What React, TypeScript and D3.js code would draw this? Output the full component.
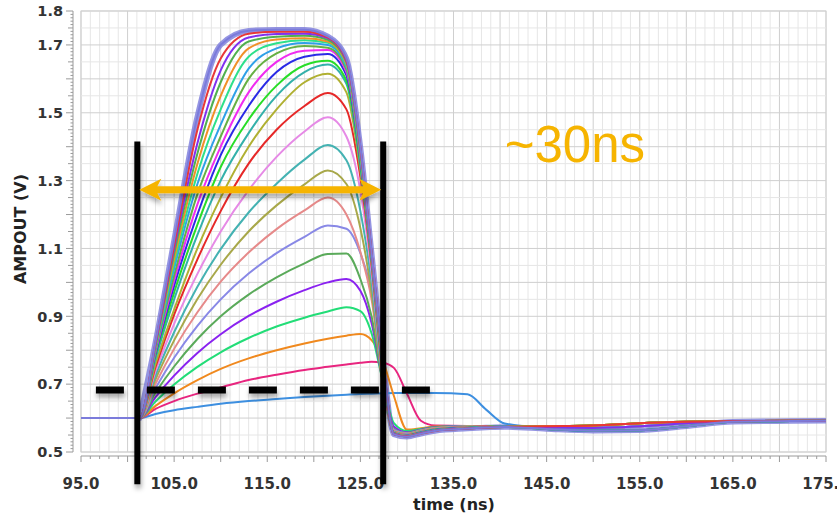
import React from 'react';
import * as d3 from 'd3';

// sample times (ns) shared by every swept waveform
const sampleTimes = [95, 101.3, 103, 105, 107.5, 110, 113, 116, 119, 121.5, 123.5, 125, 126.2, 127.4, 128.6, 130, 131.5, 133, 136.5, 138.5, 140.5];

// settling tail after 140.5 ns, three slightly different shapes
const tailTimes = [145, 150, 155, 160, 165, 175];
const tailA = [0.576, 0.578, 0.585, 0.589, 0.591, 0.592];
const tailB = [0.568, 0.563, 0.564, 0.576, 0.589, 0.592];
const tailC = [0.572, 0.571, 0.576, 0.585, 0.591, 0.592];

// waveform values (V), lowest sweep first
const curveValues: number[][] = [
  [0.6, 0.6, 0.612, 0.623, 0.633, 0.642, 0.65, 0.656, 0.662, 0.666, 0.669, 0.671, 0.672, 0.673, 0.674, 0.674, 0.674, 0.674, 0.67, 0.625, 0.584],
  [0.6, 0.6, 0.627, 0.65, 0.672, 0.69, 0.712, 0.728, 0.742, 0.751, 0.758, 0.763, 0.766, 0.763, 0.748, 0.672, 0.592, 0.578, 0.577, 0.577, 0.576],
  [0.6, 0.6, 0.636, 0.673, 0.712, 0.745, 0.776, 0.8, 0.82, 0.834, 0.843, 0.848, 0.83, 0.77, 0.665, 0.566, 0.57, 0.575, 0.577, 0.577, 0.576],
  [0.6, 0.6, 0.649, 0.699, 0.751, 0.794, 0.836, 0.87, 0.896, 0.914, 0.927, 0.915, 0.85, 0.71, 0.585, 0.562, 0.568, 0.574, 0.577, 0.577, 0.576],
  [0.6, 0.6, 0.662, 0.725, 0.792, 0.847, 0.901, 0.943, 0.977, 1.0, 1.01, 0.975, 0.88, 0.71, 0.575, 0.558, 0.566, 0.573, 0.577, 0.577, 0.576],
  [0.6, 0.6, 0.675, 0.752, 0.833, 0.9, 0.964, 1.015, 1.056, 1.084, 1.085, 1.01, 0.9, 0.71, 0.568, 0.556, 0.565, 0.572, 0.576, 0.577, 0.576],
  [0.6, 0.6, 0.688, 0.778, 0.872, 0.95, 1.026, 1.086, 1.134, 1.168, 1.158, 1.086, 0.97, 0.72, 0.565, 0.555, 0.564, 0.571, 0.576, 0.576, 0.576],
  [0.6, 0.6, 0.701, 0.804, 0.912, 1.002, 1.088, 1.157, 1.212, 1.25, 1.2, 1.09, 0.95, 0.71, 0.562, 0.554, 0.563, 0.57, 0.575, 0.576, 0.576],
  [0.6, 0.6, 0.714, 0.829, 0.951, 1.052, 1.15, 1.227, 1.289, 1.33, 1.29, 1.16, 0.97, 0.7, 0.56, 0.553, 0.562, 0.569, 0.575, 0.576, 0.576],
  [0.6, 0.6, 0.726, 0.853, 0.987, 1.098, 1.206, 1.291, 1.362, 1.405, 1.36, 1.21, 1.0, 0.71, 0.558, 0.552, 0.561, 0.568, 0.574, 0.575, 0.576],
  [0.6, 0.6, 0.738, 0.878, 1.025, 1.15, 1.272, 1.37, 1.445, 1.487, 1.43, 1.27, 1.03, 0.72, 0.557, 0.551, 0.56, 0.568, 0.574, 0.575, 0.576],
  [0.6, 0.6, 0.75, 0.905, 1.068, 1.21, 1.35, 1.45, 1.52, 1.558, 1.51, 1.31, 1.05, 0.73, 0.556, 0.55, 0.559, 0.567, 0.573, 0.575, 0.575],
  [0.6, 0.6, 0.76, 0.92, 1.1, 1.25, 1.4, 1.51, 1.59, 1.615, 1.56, 1.33, 1.06, 0.74, 0.556, 0.549, 0.558, 0.566, 0.572, 0.574, 0.575],
  [0.6, 0.6, 0.775, 0.95, 1.14, 1.3, 1.44, 1.55, 1.62, 1.642, 1.585, 1.34, 1.065, 0.745, 0.555, 0.549, 0.558, 0.566, 0.572, 0.574, 0.575],
  [0.6, 0.6, 0.785, 0.97, 1.17, 1.34, 1.48, 1.58, 1.64, 1.653, 1.595, 1.35, 1.07, 0.75, 0.555, 0.548, 0.557, 0.565, 0.571, 0.574, 0.575],
  [0.6, 0.6, 0.79, 0.99, 1.2, 1.375, 1.52, 1.62, 1.665, 1.673, 1.61, 1.36, 1.072, 0.752, 0.555, 0.548, 0.557, 0.565, 0.571, 0.573, 0.575],
  [0.6, 0.6, 0.795, 1.005, 1.23, 1.4, 1.56, 1.65, 1.683, 1.685, 1.62, 1.365, 1.075, 0.755, 0.554, 0.548, 0.556, 0.564, 0.571, 0.573, 0.575],
  [0.6, 0.6, 0.8, 1.02, 1.26, 1.43, 1.6, 1.675, 1.697, 1.692, 1.628, 1.37, 1.078, 0.758, 0.554, 0.547, 0.556, 0.564, 0.57, 0.573, 0.575],
  [0.6, 0.6, 0.805, 1.04, 1.29, 1.465, 1.63, 1.69, 1.706, 1.7, 1.635, 1.375, 1.08, 0.76, 0.554, 0.547, 0.556, 0.564, 0.57, 0.573, 0.575],
  [0.6, 0.6, 0.81, 1.055, 1.32, 1.51, 1.665, 1.705, 1.714, 1.706, 1.64, 1.38, 1.082, 0.765, 0.553, 0.547, 0.555, 0.563, 0.57, 0.573, 0.574],
  [0.6, 0.6, 0.812, 1.07, 1.35, 1.55, 1.69, 1.716, 1.72, 1.71, 1.645, 1.385, 1.084, 0.768, 0.553, 0.547, 0.555, 0.563, 0.57, 0.572, 0.574],
  [0.6, 0.6, 0.815, 1.085, 1.38, 1.59, 1.71, 1.724, 1.727, 1.715, 1.65, 1.39, 1.086, 0.772, 0.553, 0.546, 0.555, 0.563, 0.569, 0.572, 0.574],
  [0.6, 0.6, 0.818, 1.1, 1.41, 1.625, 1.722, 1.732, 1.733, 1.72, 1.652, 1.395, 1.088, 0.775, 0.553, 0.546, 0.555, 0.563, 0.569, 0.572, 0.574],
  [0.6, 0.6, 0.822, 1.11, 1.45, 1.66, 1.733, 1.739, 1.739, 1.722, 1.656, 1.398, 1.089, 0.778, 0.552, 0.546, 0.554, 0.562, 0.569, 0.572, 0.574],
  [0.6, 0.6, 0.825, 1.125, 1.49, 1.7, 1.742, 1.745, 1.745, 1.725, 1.66, 1.4, 1.09, 0.78, 0.552, 0.545, 0.554, 0.562, 0.569, 0.572, 0.574],
];

const curveColors = [
  '#3d8fe0', '#e8257f', '#f0891e', '#22dd77', '#8a22f0', '#5aaa5a', '#8888e6', '#e68a8a', '#a8a84a',
  '#44b2b2', '#e68ae6', '#e62828', '#b0b032', '#33b0aa', '#28dd28', '#2a2ae6', '#f02cf0', '#66b044',
  '#2fa0e8', '#2ee08a', '#f09028', '#50b050', '#8030f0', '#e83838', '#7b7bdb',
];
const curveTails = ['C', 'C', 'A', 'B', 'C', 'A', 'B', 'C', 'A', 'B', 'C', 'A', 'B', 'C', 'A', 'B', 'C', 'A', 'B', 'C', 'A', 'B', 'C', 'A', 'B'];

const xTicks = [95, 105, 115, 125, 135, 145, 155, 165, 175];
const yTicks = [0.5, 0.7, 0.9, 1.1, 1.3, 1.5, 1.7, 1.8];

// annotations drawn over the plot
const markerTimes = [101.05, 127.45];
const markerRange = [0.405, 1.415];
const arrowLevel = 1.273;
const thresholdLevel = 0.683;
const thresholdSpan = [96.6, 132.6];
const noteText = '~30ns';
const notePos = { t: 140.5, v: 1.355 };

const W = 837;
const H = 519;
const font = '"DejaVu Sans", sans-serif';

export default function App() {
  const x = d3.scaleLinear().domain([95, 175]).range([81, 826]);
  const y = d3.scaleLinear().domain([0.5, 1.8]).range([452, 11]);
  const tails: Record<string, number[]> = { A: tailA, B: tailB, C: tailC };

  const series = curveValues.map((vals, i) => {
    const pts: [number, number][] = sampleTimes.map((t, j) => [t, vals[j]]);
    const tail = tails[curveTails[i]];
    tailTimes.forEach((t, j) => pts.push([t, tail[j]]));
    return pts;
  });

  const line = d3.line<[number, number]>()
    .x(d => x(d[0]))
    .y(d => y(d[1]))
    .curve(d3.curveMonotoneX);

  const gridX = d3.range(95, 175.5, 1);
  const gridY = d3.range(0, 27).map(i => 0.5 + i * 0.05);
  const tickY = d3.range(0, 131).map(i => 0.5 + i * 0.01);

  const axisX = 73;
  const axisY = 456;
  const top = series.length - 1;

  const ax0 = x(markerTimes[0]) + 2;
  const ax1 = x(markerTimes[1]) - 2;
  const ay = y(arrowLevel);
  const head = 22;
  const hw = 11;
  const sh = 3.4;
  const arrowPath = `M${ax0},${ay} L${ax0 + head},${ay - hw} L${ax0 + head - 4},${ay - sh} L${ax1 - head + 4},${ay - sh} L${ax1 - head},${ay - hw} L${ax1},${ay} L${ax1 - head},${ay + hw} L${ax1 - head + 4},${ay + sh} L${ax0 + head - 4},${ay + sh} L${ax0 + head},${ay + hw} Z`;

  return (
    <svg width={W} height={H} style={{ position: 'absolute', left: 0, top: 0, background: '#fff' }}>
      <defs>
        <clipPath id="plotClip">
          <rect x={x(95)} y={y(1.8)} width={x(175) - x(95)} height={y(0.5) - y(1.8)} />
        </clipPath>
        <filter id="shadow" x="-20%" y="-20%" width="140%" height="160%">
          <feDropShadow dx="1" dy="4" stdDeviation="2.5" floodColor="#000" floodOpacity="0.35" />
        </filter>
      </defs>

      {/* grid */}
      <rect x={x(95)} y={y(1.8)} width={x(175) - x(95)} height={y(0.5) - y(1.8)} fill="#fff" stroke="#d6d6d6" />
      {gridX.map(t => (
        <line key={`gx${t}`} x1={x(t)} x2={x(t)} y1={y(1.8)} y2={y(0.5)}
          stroke={t % 5 === 0 ? '#cfcfcf' : '#e6e6e6'} strokeWidth={1} />
      ))}
      {gridY.map((v, i) => (
        <line key={`gy${i}`} x1={x(95)} x2={x(175)} y1={y(v)} y2={y(v)}
          stroke={i % 2 === 0 ? '#cfcfcf' : '#e6e6e6'} strokeWidth={1} />
      ))}

      {/* axes */}
      <line x1={axisX} x2={axisX} y1={y(1.8)} y2={y(0.5)} stroke="#9a9a9a" />
      {tickY.map((v, i) => (
        <line key={`ty${i}`} x1={axisX} x2={axisX - (i % 10 === 0 ? 7 : i % 5 === 0 ? 5 : 2.5)}
          y1={y(v)} y2={y(v)} stroke="#9a9a9a" />
      ))}
      <line x1={x(95)} x2={x(175)} y1={axisY} y2={axisY} stroke="#9a9a9a" />
      {gridX.map(t => (
        <line key={`tx${t}`} x1={x(t)} x2={x(t)} y1={axisY} y2={axisY + (t % 5 === 0 ? 6 : 3)} stroke="#9a9a9a" />
      ))}
      {yTicks.map(v => (
        <text key={`ly${v}`} x={63} y={y(v)} dy="0.36em" textAnchor="end"
          fontFamily={font} fontWeight="bold" fontSize={14.5} fill="#333">{v.toFixed(1)}</text>
      ))}
      {xTicks.map(t => (
        <text key={`lx${t}`} x={x(t)} y={489} textAnchor="middle"
          fontFamily={font} fontWeight="bold" fontSize={15} fill="#333">{t.toFixed(1)}</text>
      ))}
      <text transform={`translate(26,${229}) rotate(-90)`} textAnchor="middle"
        fontFamily={font} fontWeight="bold" fontSize={16} fill="#222">AMPOUT (V)</text>
      <text x={454} y={510} textAnchor="middle"
        fontFamily={font} fontWeight="bold" fontSize={16} fill="#222">time (ns)</text>

      {/* waveforms */}
      <g clipPath="url(#plotClip)" fill="none" strokeLinejoin="round" strokeLinecap="round">
        <path d={line(series[top].slice(1)) || ''} stroke="#7b7bdb" strokeWidth={5.5} strokeOpacity={0.8} />
        {series.slice(0, top).map((pts, i) => (
          <path key={`c${i}`} d={line(pts) || ''} stroke={curveColors[i]} strokeWidth={2} />
        ))}
        <path d={line(series[top]) || ''} stroke={curveColors[top]} strokeWidth={2} />
      </g>

      {/* annotations */}
      <g filter="url(#shadow)">
        <line x1={x(thresholdSpan[0])} x2={x(thresholdSpan[1])} y1={y(thresholdLevel)} y2={y(thresholdLevel)}
          stroke="#000" strokeWidth={7} strokeDasharray="28 23" />
        {markerTimes.map(t => (
          <line key={`m${t}`} x1={x(t)} x2={x(t)} y1={y(markerRange[1])} y2={y(markerRange[0])}
            stroke="#000" strokeWidth={6} />
        ))}
        <path d={arrowPath} fill="#f6b400" />
      </g>
      <text x={x(notePos.t)} y={y(notePos.v)} fontFamily='"Liberation Sans", Arial, sans-serif'
        fontSize={51} fill="#f6b400">{noteText}</text>
    </svg>
  );
}
